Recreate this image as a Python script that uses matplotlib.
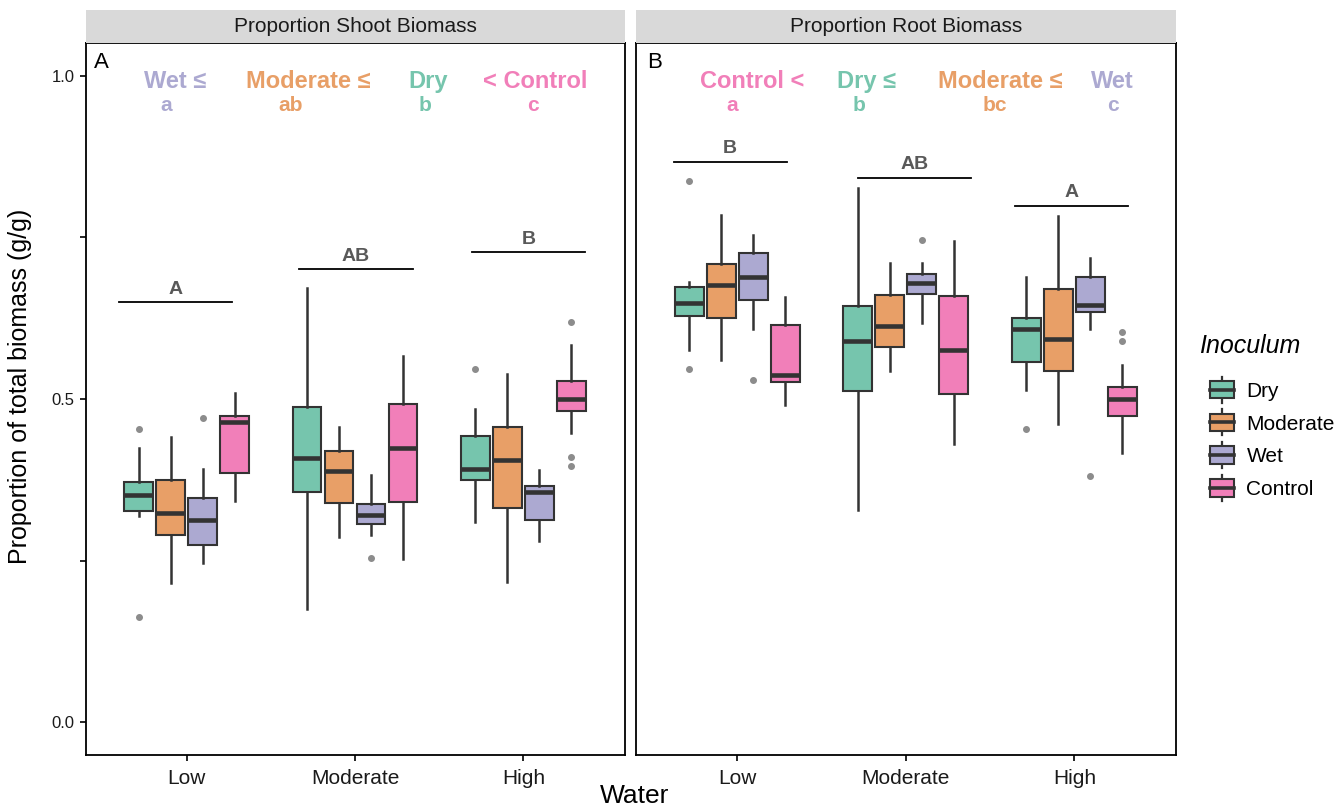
import numpy as np
import matplotlib
matplotlib.use("Agg")
import matplotlib.pyplot as plt
from matplotlib.patches import Rectangle, Patch
from matplotlib.lines import Line2D
from matplotlib.legend_handler import HandlerPatch

plt.rcParams['font.family'] = ['Liberation Sans', 'DejaVu Sans']

water = ["Low", "Moderate", "High"]
inoculum = ["Dry", "Moderate", "Wet", "Control"]

# box stats per water level (rows), per inoculum (cols)
shoot_q1 = [[0.327, 0.290, 0.275, 0.385],
            [0.356, 0.339, 0.306, 0.341],
            [0.375, 0.331, 0.313, 0.481]]
shoot_med = [[0.351, 0.323, 0.313, 0.464],
             [0.409, 0.388, 0.320, 0.425],
             [0.392, 0.406, 0.356, 0.500]]
shoot_q3 = [[0.371, 0.374, 0.347, 0.474],
            [0.488, 0.419, 0.337, 0.492],
            [0.443, 0.456, 0.365, 0.528]]
shoot_lo = [[0.319, 0.215, 0.246, 0.343],
            [0.175, 0.287, 0.289, 0.253],
            [0.310, 0.217, 0.281, 0.448]]
shoot_hi = [[0.425, 0.441, 0.391, 0.510],
            [0.671, 0.456, 0.382, 0.567],
            [0.484, 0.538, 0.390, 0.583]]
shoot_out = [[[0.453, 0.163], [], [0.470], []],
             [[], [], [0.254], []],
             [[0.546], [], [], [0.410, 0.397, 0.619]]]

root_q1 = [[0.629, 0.626, 0.653, 0.527],
           [0.513, 0.581, 0.663, 0.508],
           [0.557, 0.544, 0.635, 0.473]]
root_med = [[0.649, 0.677, 0.688, 0.537],
            [0.590, 0.613, 0.679, 0.576],
            [0.609, 0.593, 0.645, 0.500]]
root_q3 = [[0.673, 0.709, 0.725, 0.614],
           [0.644, 0.661, 0.694, 0.659],
           [0.626, 0.670, 0.688, 0.518]]
root_lo = [[0.575, 0.560, 0.609, 0.490],
           [0.329, 0.544, 0.617, 0.431],
           [0.514, 0.462, 0.609, 0.417]]
root_hi = [[0.681, 0.784, 0.753, 0.657],
           [0.826, 0.711, 0.711, 0.745],
           [0.689, 0.783, 0.718, 0.552]]
root_out = [[[0.837, 0.546], [], [0.530], []],
            [[], [], [0.746], []],
            [[0.454], [], [0.381], [0.603, 0.590]]]

# post-hoc letters
shoot_water_letters = ["A", "AB", "B"]
root_water_letters = ["B", "AB", "A"]
shoot_rank_words = ["Wet ≤", "Moderate ≤", "Dry", "< Control"]
shoot_rank_groups = ["Wet", "Moderate", "Dry", "Control"]
shoot_rank_letters = ["a", "ab", "b", "c"]
root_rank_words = ["Control <", "Dry ≤", "Moderate ≤", "Wet"]
root_rank_groups = ["Control", "Dry", "Moderate", "Wet"]
root_rank_letters = ["a", "b", "bc", "c"]

# Dark2 at alpha 0.6 over white
colors = {"Dry": "#76C5AD", "Moderate": "#E89F67", "Wet": "#ACA9D1", "Control": "#F17FB9"}
edge = "#333333"

# layout of annotations (data coords)
shoot_bar_x = [(0.598, 1.272), (1.667, 2.343), (2.693, 3.367)]
shoot_bar_y = [0.650, 0.701, 0.727]
root_bar_x = [(0.624, 1.293), (1.718, 2.387), (2.650, 3.320)]
root_bar_y = [0.867, 0.842, 0.799]
shoot_word_x = [0.930, 1.721, 2.434, 3.070]
shoot_letter_x = [0.877, 1.620, 2.413, 3.055]
root_word_x = [1.087, 1.770, 2.559, 3.224]
root_letter_x = [0.973, 1.724, 2.529, 3.227]

W, H = 1344, 809
fig = plt.figure(figsize=(W / 100, H / 100), dpi=100)

panel_b, panel_h = 54 / H, 712 / H
ax1 = fig.add_axes([85.5 / W, panel_b, 539 / W, panel_h])
ax2 = fig.add_axes([636 / W, panel_b, 539.5 / W, panel_h])

offsets = (np.arange(4) - 1.5) * 0.19


def draw_panel(ax, q1, med, q3, lo, hi, out):
    for i in range(len(water)):
        stats = []
        for j in range(len(inoculum)):
            stats.append(dict(med=med[i][j], q1=q1[i][j], q3=q3[i][j],
                              whislo=lo[i][j], whishi=hi[i][j], fliers=out[i][j]))
        bp = ax.bxp(stats, positions=i + 1 + offsets, widths=0.172, patch_artist=True,
                    showcaps=False, manage_ticks=False,
                    boxprops=dict(edgecolor=edge, linewidth=1.5),
                    medianprops=dict(color=edge, linewidth=3.3, solid_capstyle='butt'),
                    whiskerprops=dict(color=edge, linewidth=1.8),
                    flierprops=dict(marker='o', markerfacecolor='#8c8c8c',
                                    markeredgecolor='#8c8c8c', markersize=4))
        for patch, name in zip(bp['boxes'], inoculum):
            patch.set_facecolor(colors[name])
    ax.set_xlim(0.4, 3.6)
    ax.set_ylim(-0.0505, 1.0505)
    ax.set_xticks(range(1, 4))
    ax.set_xticklabels(water, fontsize=15, color='#1a1a1a')
    for s in ax.spines.values():
        s.set_linewidth(1.3)
    ax.tick_params(axis='x', length=4, width=1.2, pad=6)


draw_panel(ax1, shoot_q1, shoot_med, shoot_q3, shoot_lo, shoot_hi, shoot_out)
draw_panel(ax2, root_q1, root_med, root_q3, root_lo, root_hi, root_out)

ax1.set_yticks([0, 0.25, 0.5, 0.75, 1.0])
ax1.set_yticklabels(["0.0", "", "0.5", "", "1.0"], fontsize=12, color='#1a1a1a')
ax1.tick_params(axis='y', length=4, width=1.2, pad=4)
ax2.set_yticks([])

# water-level letters with bars
for ax, labels, xs, ys in [(ax1, shoot_water_letters, shoot_bar_x, shoot_bar_y),
                           (ax2, root_water_letters, root_bar_x, root_bar_y)]:
    for lab, (x0, x1), y in zip(labels, xs, ys):
        ax.plot([x0, x1], [y, y], color='black', lw=1.3)
        ax.text((x0 + x1) / 2, y + 0.020, lab, ha='center', va='center',
                fontsize=14, fontweight='bold', color='#595959')

# inoculum ranking text
for ax, words, groups, letters, wx, lx in [
        (ax1, shoot_rank_words, shoot_rank_groups, shoot_rank_letters, shoot_word_x, shoot_letter_x),
        (ax2, root_rank_words, root_rank_groups, root_rank_letters, root_word_x, root_letter_x)]:
    for w, g, l, x, x2 in zip(words, groups, letters, wx, lx):
        ax.text(x, 0.991, w, ha='center', va='center', fontsize=17,
                fontweight='bold', color=colors[g])
        ax.text(x2, 0.954, l, ha='center', va='center', fontsize=15,
                fontweight='bold', color=colors[g])

ax1.text(0.016, 0.973, "A", transform=ax1.transAxes, fontsize=16, va='center', ha='left')
ax2.text(0.020, 0.973, "B", transform=ax2.transAxes, fontsize=16, va='center', ha='left')

# facet strips
for ax, title in [(ax1, "Proportion Shoot Biomass"), (ax2, "Proportion Root Biomass")]:
    pos = ax.get_position()
    st = fig.add_axes([pos.x0, (H - 43) / H, pos.width, 33 / H])
    st.set_facecolor('#D9D9D9')
    st.set_xticks([])
    st.set_yticks([])
    for s in st.spines.values():
        s.set_visible(False)
    st.text(0.5, 0.5, title, ha='center', va='center', fontsize=15, color='#1a1a1a')

fig.text(20 / W, 1 - 386 / H, "Proportion of total biomass (g/g)", rotation=90,
         ha='center', va='center', fontsize=18)
fig.text(635 / W, 1 - 796 / H, "Water", ha='center', va='center', fontsize=19)


class BoxKey(HandlerPatch):
    def create_artists(self, legend, orig_handle, xdescent, ydescent, width, height, fontsize, trans):
        x0, y0 = -xdescent, -ydescent
        stub = 0.25 * height
        wl = Line2D([x0 + width / 2] * 2, [y0 - stub, y0 + height + stub], color=edge, lw=1.6)
        box = Rectangle((x0, y0), width, height, facecolor=orig_handle.get_facecolor(),
                        edgecolor=edge, lw=1.5)
        md = Line2D([x0, x0 + width], [y0 + height / 2] * 2, color=edge, lw=2.6)
        for a in (wl, box, md):
            a.set_transform(trans)
        return [wl, box, md]


handles = [Patch(facecolor=colors[n], edgecolor=edge) for n in inoculum]
fig.text(1199 / W, 1 - 346 / H, "Inoculum", fontsize=18, style='italic', va='center', ha='left')
fig.legend(handles, inoculum, loc='upper left', bbox_to_anchor=(1210 / W, 1 - 381 / H),
           frameon=False, fontsize=15, handler_map={Patch: BoxKey()},
           handlelength=1.15, handleheight=0.9, handletextpad=0.6,
           labelspacing=0.62, borderpad=0, borderaxespad=0)

fig.savefig("out.png", dpi=100)
